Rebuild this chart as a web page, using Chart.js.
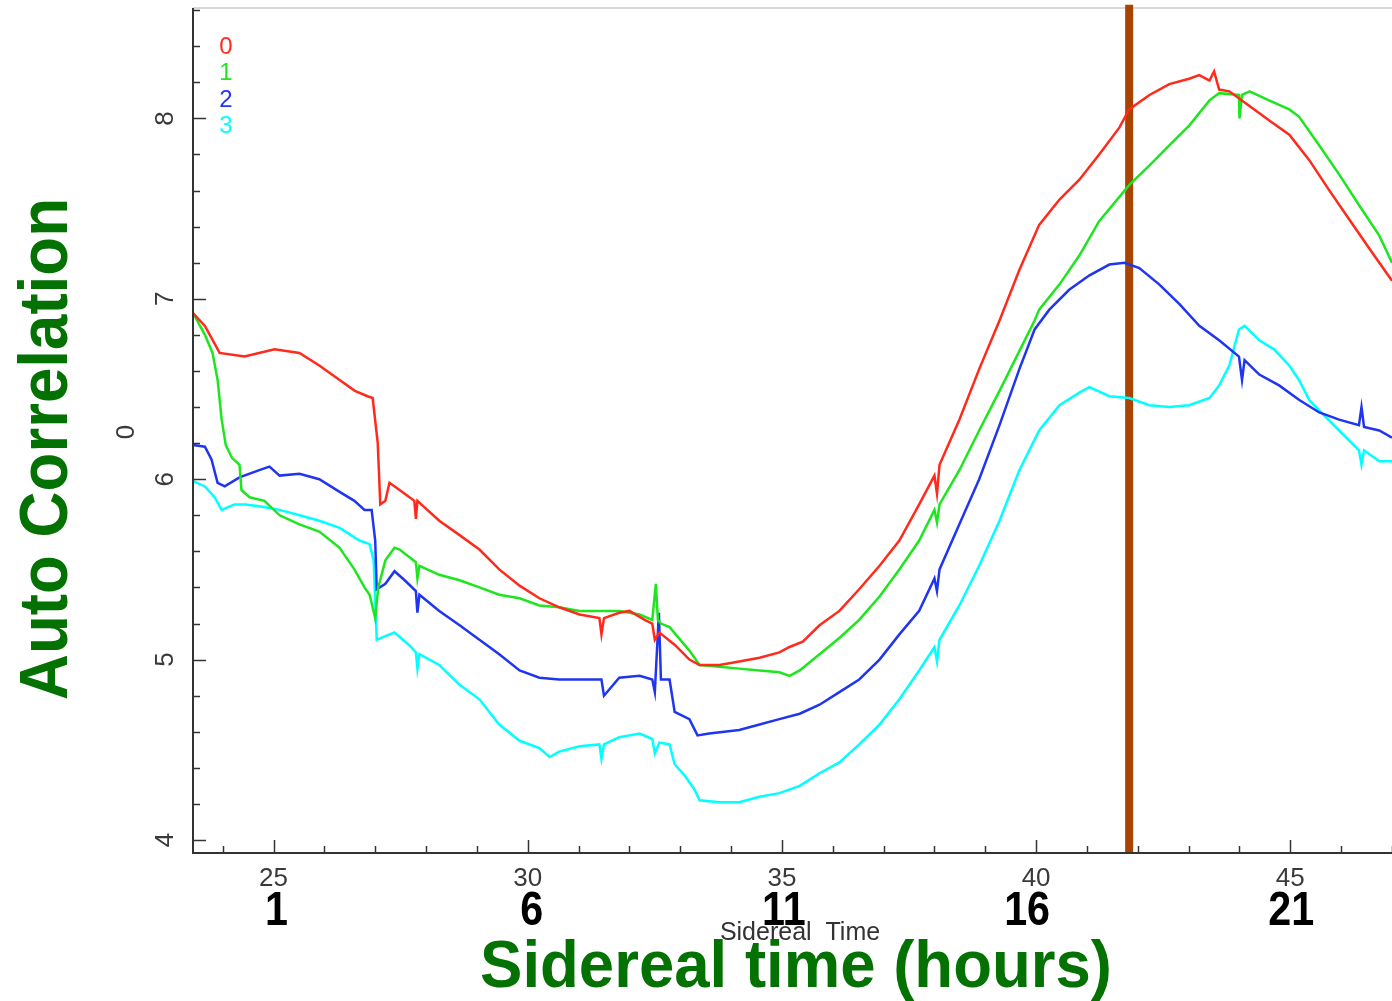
<!DOCTYPE html>
<html>
<head>
<meta charset="utf-8">
<title>Auto Correlation vs Sidereal Time</title>
<script src="https://cdn.jsdelivr.net/npm/chart.js@4.4.0/dist/chart.umd.min.js"></script>
<style>
  body { margin: 0; background: #fff; }
  #wrap { width: 1392px; height: 1001px; position: relative; }
</style>
</head>
<body>
<div id="wrap"><canvas id="chart"></canvas></div>
<script>
// values (x = sidereal time, y = auto correlation)
const seriesNames = ["0", "1", "2", "3"];

const redX = [23.42, 23.65, 23.94, 24.43, 25.02, 25.51, 25.9, 26.3, 26.6, 26.85, 26.95, 27.05, 27.1, 27.2, 27.28, 27.48, 27.77, 27.8, 27.83, 28.26, 28.66, 29.05, 29.44, 29.84, 30.23, 30.62, 31.02, 31.41, 31.45, 31.5, 31.8, 32.0, 32.3, 32.45, 32.5, 32.59, 32.9, 33.18, 33.38, 33.77, 34.16, 34.56, 34.95, 35.15, 35.41, 35.74, 36.13, 36.52, 36.92, 37.31, 37.7, 38.0, 38.05, 38.1, 38.49, 38.88, 39.28, 39.67, 40.06, 40.46, 40.85, 41.24, 41.64, 41.83, 42.23, 42.62, 43.01, 43.21, 43.41, 43.5, 43.6, 43.8, 44.19, 44.58, 44.98, 45.37, 45.77, 46.16, 46.55, 47.0];
const redY = [6.92, 6.85, 6.70, 6.68, 6.72, 6.70, 6.63, 6.55, 6.49, 6.46, 6.45, 6.2, 5.86, 5.88, 5.98, 5.94, 5.88, 5.78, 5.88, 5.77, 5.69, 5.61, 5.50, 5.41, 5.34, 5.29, 5.25, 5.23, 5.14, 5.23, 5.26, 5.27, 5.22, 5.20, 5.11, 5.15, 5.08, 5.00, 4.97, 4.97, 4.99, 5.01, 5.04, 5.07, 5.10, 5.19, 5.27, 5.39, 5.52, 5.66, 5.86, 6.02, 5.92, 6.08, 6.33, 6.61, 6.88, 7.16, 7.41, 7.55, 7.66, 7.80, 7.95, 8.05, 8.13, 8.19, 8.22, 8.24, 8.21, 8.26, 8.16, 8.15, 8.07, 7.99, 7.91, 7.77, 7.60, 7.44, 7.28, 7.10];

const greenX = [23.42, 23.65, 23.8, 23.9, 23.98, 24.06, 24.18, 24.33, 24.37, 24.53, 24.82, 25.12, 25.51, 25.9, 26.3, 26.59, 26.79, 26.89, 27.0, 27.06, 27.2, 27.38, 27.48, 27.8, 27.83, 27.87, 28.26, 28.66, 29.05, 29.44, 29.84, 30.23, 30.62, 31.02, 31.41, 31.8, 32.2, 32.45, 32.52, 32.56, 32.62, 32.79, 33.18, 33.38, 33.77, 34.16, 34.56, 34.95, 35.15, 35.35, 35.74, 36.13, 36.52, 36.92, 37.31, 37.7, 38.0, 38.05, 38.1, 38.49, 38.88, 39.28, 39.67, 39.97, 40.06, 40.46, 40.85, 41.24, 41.83, 42.23, 42.62, 43.01, 43.41, 43.6, 43.99, 44.0, 44.05, 44.2, 44.58, 44.98, 45.17, 45.57, 45.96, 46.35, 46.75, 47.0];
const greenY = [6.92, 6.80, 6.70, 6.55, 6.33, 6.19, 6.12, 6.08, 5.94, 5.90, 5.88, 5.80, 5.75, 5.71, 5.62, 5.50, 5.40, 5.36, 5.23, 5.40, 5.55, 5.62, 5.61, 5.54, 5.45, 5.52, 5.47, 5.44, 5.40, 5.36, 5.34, 5.30, 5.29, 5.27, 5.27, 5.27, 5.25, 5.22, 5.42, 5.22, 5.20, 5.18, 5.05, 4.97, 4.96, 4.95, 4.94, 4.93, 4.91, 4.94, 5.03, 5.12, 5.22, 5.35, 5.50, 5.66, 5.83, 5.76, 5.86, 6.05, 6.27, 6.49, 6.71, 6.88, 6.94, 7.08, 7.24, 7.43, 7.63, 7.74, 7.85, 7.96, 8.10, 8.14, 8.13, 8.0, 8.13, 8.15, 8.10, 8.05, 8.01, 7.85, 7.69, 7.52, 7.35, 7.20];

const blueX = [23.42, 23.65, 23.78, 23.9, 24.04, 24.33, 24.72, 24.92, 25.12, 25.51, 25.9, 26.3, 26.59, 26.79, 26.93, 27.0, 27.03, 27.2, 27.38, 27.58, 27.8, 27.83, 27.87, 28.26, 28.66, 29.05, 29.44, 29.84, 30.23, 30.62, 31.02, 31.45, 31.5, 31.8, 32.2, 32.45, 32.5, 32.58, 32.62, 32.7, 32.79, 32.89, 33.18, 33.34, 33.57, 34.16, 34.56, 34.95, 35.35, 35.74, 36.13, 36.52, 36.92, 37.31, 37.7, 38.0, 38.05, 38.1, 38.49, 38.88, 39.28, 39.67, 39.97, 40.26, 40.65, 41.05, 41.44, 41.74, 42.03, 42.42, 42.82, 43.21, 43.6, 43.99, 44.05, 44.1, 44.39, 44.78, 45.17, 45.57, 45.96, 46.35, 46.4, 46.45, 46.75, 47.0];
const blueY = [6.19, 6.18, 6.11, 5.98, 5.96, 6.01, 6.05, 6.07, 6.02, 6.03, 6.00, 5.93, 5.88, 5.83, 5.83, 5.66, 5.39, 5.42, 5.49, 5.44, 5.38, 5.26, 5.36, 5.27, 5.19, 5.11, 5.03, 4.94, 4.90, 4.89, 4.89, 4.89, 4.80, 4.90, 4.91, 4.89, 4.82, 5.26, 4.89, 4.89, 4.89, 4.71, 4.67, 4.58, 4.59, 4.61, 4.64, 4.67, 4.70, 4.75, 4.82, 4.89, 5.00, 5.14, 5.27, 5.45, 5.38, 5.50, 5.75, 6.00, 6.30, 6.61, 6.83, 6.94, 7.05, 7.13, 7.19, 7.20, 7.17, 7.08, 6.97, 6.85, 6.77, 6.68, 6.55, 6.66, 6.58, 6.52, 6.44, 6.37, 6.33, 6.30, 6.40, 6.29, 6.27, 6.23];

const cyanX = [23.42, 23.65, 23.84, 23.98, 24.23, 24.45, 24.72, 25.12, 25.51, 25.9, 26.3, 26.69, 26.89, 26.97, 27.03, 27.2, 27.38, 27.67, 27.8, 27.83, 27.87, 28.26, 28.66, 29.05, 29.44, 29.84, 30.23, 30.43, 30.62, 31.02, 31.41, 31.45, 31.5, 31.8, 32.2, 32.45, 32.5, 32.59, 32.79, 32.89, 33.08, 33.28, 33.38, 33.77, 34.16, 34.56, 34.95, 35.35, 35.74, 36.13, 36.52, 36.92, 37.31, 37.7, 38.0, 38.05, 38.1, 38.49, 38.88, 39.28, 39.67, 40.06, 40.46, 40.85, 41.05, 41.44, 41.83, 42.23, 42.62, 43.01, 43.41, 43.6, 43.8, 43.99, 44.1, 44.39, 44.68, 44.98, 45.17, 45.37, 45.57, 45.96, 46.35, 46.4, 46.45, 46.75, 47.0];
const cyanY = [5.99, 5.96, 5.90, 5.83, 5.86, 5.86, 5.85, 5.83, 5.80, 5.77, 5.73, 5.66, 5.64, 5.55, 5.11, 5.13, 5.15, 5.08, 5.04, 4.95, 5.03, 4.97, 4.86, 4.78, 4.64, 4.55, 4.51, 4.46, 4.49, 4.52, 4.53, 4.45, 4.53, 4.57, 4.59, 4.56, 4.48, 4.54, 4.53, 4.42, 4.36, 4.28, 4.22, 4.21, 4.21, 4.24, 4.26, 4.30, 4.37, 4.43, 4.53, 4.64, 4.78, 4.94, 5.07, 4.99, 5.11, 5.30, 5.52, 5.77, 6.05, 6.27, 6.41, 6.48, 6.51, 6.46, 6.45, 6.41, 6.40, 6.41, 6.45, 6.52, 6.63, 6.83, 6.85, 6.77, 6.72, 6.63, 6.55, 6.44, 6.38, 6.27, 6.16, 6.08, 6.16, 6.10, 6.10];

const markerX = 41.83;          // vertical marker line
const xMajorTicks = [25, 30, 35, 40, 45];
const hourLabels = ["1", "6", "11", "16", "21"];
const yMajorTicks = [4, 5, 6, 7, 8];

const colors = ["#ff2a1c", "#1ee61e", "#1f35f0", "#00ffff"];

function toPoints(xs, ys) {
  return xs.map((x, i) => ({ x: x, y: ys[i] }));
}

const X_MIN = 23.416, X_MAX = 47.0, Y_MIN = 3.928, Y_MAX = 8.612;

const axesPlugin = {
  id: "oldAxes",
  beforeDatasetsDraw(chart) {
    const ctx = chart.ctx;
    const a = chart.chartArea;
    ctx.save();
    ctx.strokeStyle = "#cccccc";
    ctx.lineWidth = 1.5;
    ctx.beginPath();
    ctx.moveTo(a.left, a.top);
    ctx.lineTo(a.right, a.top);
    ctx.stroke();
    ctx.restore();
  },
  afterDraw(chart) {
    const ctx = chart.ctx;
    const a = chart.chartArea;
    const xs = chart.scales.x;
    const ys = chart.scales.y;
    ctx.save();

    // axis lines
    ctx.strokeStyle = "#333";
    ctx.lineWidth = 2;
    ctx.beginPath();
    ctx.moveTo(a.left, a.top);
    ctx.lineTo(a.left, a.bottom);
    ctx.lineTo(a.right, a.bottom);
    ctx.stroke();

    // y ticks, every 0.2
    ctx.lineWidth = 1.5;
    for (let i = 20; i <= 43; i++) {
      const v = i / 5;
      const py = Math.round(ys.getPixelForValue(v)) + 0.5;
      const len = (i % 5 === 0) ? 13 : 7;
      ctx.beginPath();
      ctx.moveTo(a.left, py);
      ctx.lineTo(a.left + len, py);
      ctx.stroke();
    }
    // x ticks, every 1
    for (let v = 24; v <= 47; v++) {
      const px = Math.round(xs.getPixelForValue(v)) + 0.5;
      const len = (v % 5 === 0) ? 13 : 7;
      ctx.beginPath();
      ctx.moveTo(px, a.bottom);
      ctx.lineTo(px, a.bottom - len);
      ctx.stroke();
    }

    // y tick labels, rotated
    ctx.fillStyle = "#3a3a3a";
    ctx.font = '26px "Liberation Sans", Arial, sans-serif';
    ctx.textAlign = "center";
    ctx.textBaseline = "middle";
    yMajorTicks.forEach(v => {
      ctx.save();
      ctx.translate(166, ys.getPixelForValue(v));
      ctx.rotate(-Math.PI / 2);
      ctx.fillText(String(v), 0, 0);
      ctx.restore();
    });
    ctx.save();
    ctx.translate(127, 432);
    ctx.rotate(-Math.PI / 2);
    ctx.fillText("0", 0, 0);
    ctx.restore();

    // x tick labels
    xMajorTicks.forEach(v => {
      ctx.fillText(String(v), xs.getPixelForValue(v), 879);
    });

    // hour labels (bold, condensed) - "16" sits a bit left of its tick in the original
    ctx.fillStyle = "#000";
    ctx.font = 'bold 48px "Liberation Sans", Arial, sans-serif';
    ctx.textBaseline = "alphabetic";
    const hourShift = [3, 4, 2, -9, 1];
    xMajorTicks.forEach((v, i) => {
      ctx.save();
      ctx.translate(xs.getPixelForValue(v) + hourShift[i], 925);
      ctx.scale(0.86, 1);
      ctx.fillText(hourLabels[i], 0, 0);
      ctx.restore();
    });

    // small axis title
    ctx.fillStyle = "#333";
    ctx.font = '25px "Liberation Sans", Arial, sans-serif';
    ctx.fillText("Sidereal  Time", 800, 940, 172);

    // big green titles
    ctx.fillStyle = "#037203";
    ctx.font = 'bold 67px "Liberation Sans", Arial, sans-serif';
    ctx.fillText("Sidereal time (hours)", 796, 987, 632);
    ctx.save();
    ctx.translate(67, 449);
    ctx.rotate(-Math.PI / 2);
    ctx.font = 'bold 69px "Liberation Sans", Arial, sans-serif';
    ctx.fillText("Auto Correlation", 0, 0, 502);
    ctx.restore();

    // series legend
    ctx.font = '24px "Liberation Sans", Arial, sans-serif';
    ctx.textBaseline = "middle";
    seriesNames.forEach((name, i) => {
      ctx.fillStyle = colors[i];
      ctx.fillText(name, 226, 47 + i * 26.5);
    });

    ctx.restore();
  }
};

const datasets = [
  [redX, redY], [greenX, greenY], [blueX, blueY], [cyanX, cyanY]
].map((s, i) => ({
  label: seriesNames[i],
  data: toPoints(s[0], s[1]),
  borderColor: colors[i],
  borderWidth: 2.5,
  pointRadius: 0,
  tension: 0,
  fill: false
}));

datasets.push({
  label: "marker",
  data: [{ x: markerX, y: Y_MIN }, { x: markerX, y: 8.63 }],
  borderColor: "#a84300",
  borderWidth: 8,
  pointRadius: 0,
  clip: false,
  fill: false
});

new Chart(document.getElementById("chart"), {
  type: "line",
  data: { datasets: datasets },
  options: {
    responsive: true,
    maintainAspectRatio: false,
    animation: false,
    layout: { padding: { left: 193, top: 8, right: 0, bottom: 148 } },
    plugins: { legend: { display: false }, tooltip: { enabled: false } },
    scales: {
      x: { type: "linear", min: X_MIN, max: X_MAX, display: false },
      y: { type: "linear", min: Y_MIN, max: Y_MAX, display: false }
    }
  },
  plugins: [axesPlugin]
});
</script>
</body>
</html>
